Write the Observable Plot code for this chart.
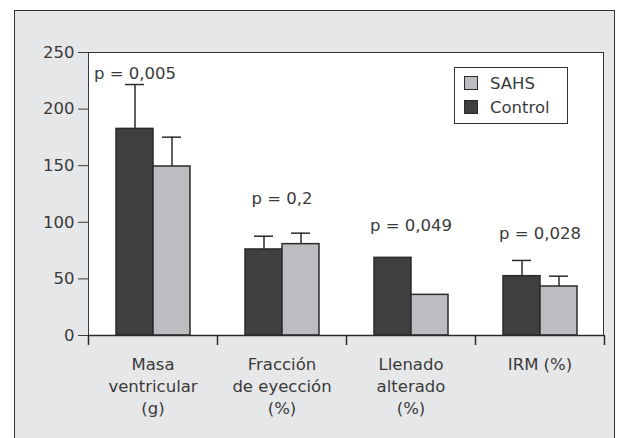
<!DOCTYPE html>
<html>
<head>
<meta charset="utf-8">
<script src="https://cdn.jsdelivr.net/npm/d3@7"></script>
<script src="https://cdn.jsdelivr.net/npm/@observablehq/plot@0.6"></script>
<style>
  html, body { margin: 0; padding: 0; width: 626px; height: 438px; overflow: hidden; background: #ffffff; }
  #panel { position: absolute; left: 14px; top: 10px; width: 601px; height: 440px; box-sizing: border-box;
           background: #e6e7e8; border: 1.5px solid #333; }
  #area { position: absolute; left: 88px; top: 52px; width: 516px; height: 283px; box-sizing: border-box;
          background: #ffffff; border-top: 1.5px solid #333; border-right: 1.5px solid #333; }
  #chart { position: absolute; left: 0; top: 0; }
  #legend { position: absolute; left: 454px; top: 67px; width: 114px; height: 57px; box-sizing: border-box;
            border: 1px solid #333; background: #fff; font-family: "DejaVu Sans", sans-serif; font-size: 16.5px; color: #3a3a3a; }
  .item { position: absolute; left: 9px; height: 20px; display: flex; align-items: center; }
  .sw { width: 12px; height: 12px; border: 1px solid #2b2b2b; margin-right: 12px; }
</style>
</head>
<body>
<div id="panel"></div>
<div id="area"></div>
<div id="chart"></div>
<div id="legend"></div>
<script>
const categories = ["Masa\nventricular\n(g)", "Fracción\nde eyección\n(%)", "Llenado\nalterado\n(%)", "IRM (%)"];
const series = ["Control", "SAHS"];
const controlValues = [182.5, 76, 68.6, 52.4];
const sahsValues = [149.3, 80.7, 35.9, 43.3];
const controlErrTop = [221.7, 87.7, null, 66.3];
const sahsErrTop = [175.2, 90.4, null, 52.4];
const pLabels = ["p = 0,005", "p = 0,2", "p = 0,049", "p = 0,028"];
const pLabelY = [231, 121, 97, 90];
const yTicks = [0, 50, 100, 150, 200, 250];
const colors = ["#3f3f3f", "#bcbdc0"];

const rows = [];
categories.forEach((c, i) => {
  rows.push({category: c, series: "Control", value: controlValues[i], err: controlErrTop[i], p: pLabels[i], py: pLabelY[i]});
  rows.push({category: c, series: "SAHS", value: sahsValues[i], err: sahsErrTop[i], p: null, py: null});
});
const errRows = rows.filter(d => d.err != null);
const pRowsFirst = rows.filter(d => d.p != null && d.category === categories[0]);
const pRowsOther = rows.filter(d => d.p != null && d.category !== categories[0]);

const W = 626, H = 438, ML = 88, MR = 22, MT = 52, MB = 103;
const step = (W - ML - MR) / categories.length;

const chart = Plot.plot({
  width: W, height: H,
  marginLeft: ML, marginRight: MR, marginTop: MT, marginBottom: MB,
  style: {fontFamily: "DejaVu Sans, sans-serif", fontSize: "16.5px", color: "#3a3a3a", background: "transparent", overflow: "visible"},
  fx: {domain: categories, paddingInner: 0, paddingOuter: 0, axis: null, label: null},
  x: {domain: series, paddingInner: 0, paddingOuter: 0.74, axis: null},
  y: {domain: [0, 250], ticks: yTicks, tickSize: 10, tickPadding: 4, line: true, label: null},
  color: {domain: series, range: colors},
  marks: [
    Plot.ruleX(errRows, {fx: "category", x: "series", y1: "value", y2: "err", stroke: "#2b2b2b", strokeWidth: 1.5}),
    Plot.tickY(errRows, {fx: "category", x: "series", y: "err", stroke: "#2b2b2b", strokeWidth: 1.5, insetLeft: 9, insetRight: 9}),
    Plot.barY(rows, {fx: "category", x: "series", y: "value", fill: "series", stroke: "#2b2b2b", strokeWidth: 1.5}),
    Plot.text(pRowsFirst, {fx: "category", x: "series", y: "py", text: "p", fill: "#3a3a3a", fontSize: 16.5}),
    Plot.text(pRowsOther, {fx: "category", y: "py", text: "p", fill: "#3a3a3a", fontSize: 16.5}),
    Plot.ruleY([0], {stroke: "#2b2b2b", strokeWidth: 1.5}),
    Plot.axisFx({anchor: "bottom", tickSize: 0, tickPadding: 19, label: null, lineHeight: 1.33, fontSize: 16.5, fill: "#3a3a3a"}),
    Plot.axisFx({anchor: "bottom", tickSize: 10, text: null, label: null, dx: -step / 2, stroke: "#2b2b2b", strokeWidth: 1.5}),
    Plot.axisFx({anchor: "bottom", ticks: [categories[categories.length - 1]], tickSize: 10, text: null, label: null, dx: step / 2, stroke: "#2b2b2b", strokeWidth: 1.5})
  ]
});
document.getElementById("chart").appendChild(chart);

const legendOrder = ["SAHS", "Control"];
const lg = document.getElementById("legend");
legendOrder.forEach((s, i) => {
  const it = document.createElement("div");
  it.className = "item";
  it.style.top = (i === 0 ? 5 : 29) + "px";
  const sw = document.createElement("div");
  sw.className = "sw";
  sw.style.background = colors[series.indexOf(s)];
  it.appendChild(sw);
  it.appendChild(document.createTextNode(s));
  lg.appendChild(it);
});
</script>
</body>
</html>
